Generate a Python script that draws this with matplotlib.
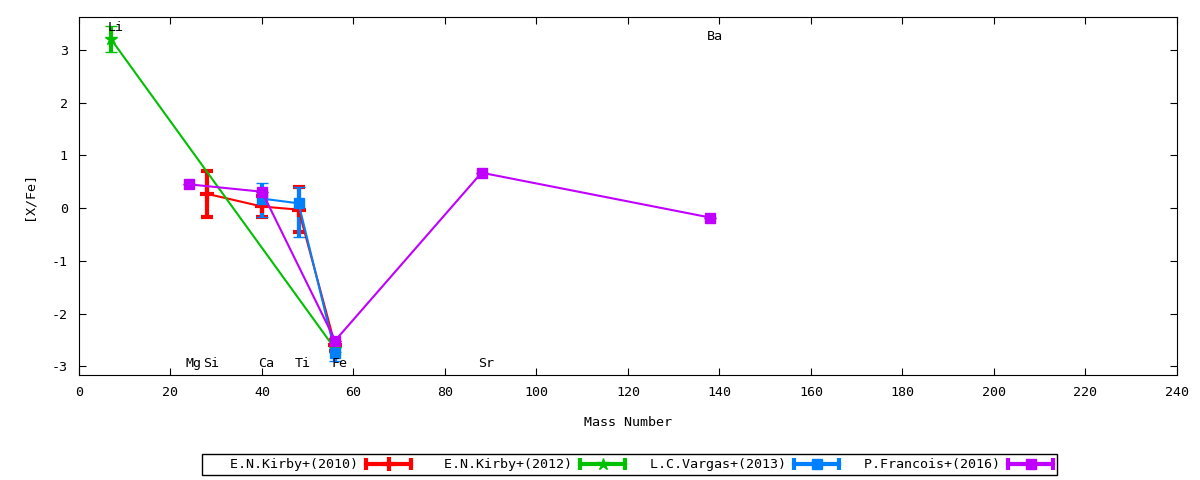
import matplotlib
matplotlib.use("Agg")
import matplotlib.pyplot as plt
from matplotlib.lines import Line2D
from matplotlib.legend_handler import HandlerBase

plt.rcParams['font.family'] = ['DejaVu Sans Mono']
plt.rcParams['font.size'] = 9.6
plt.rcParams['axes.unicode_minus'] = False

# mass number, [X/Fe], error
kirby10_x = [28, 40, 48, 56]
kirby10_y = [0.27, 0.03, -0.03, -2.6]
kirby10_err = [0.43, 0.2, 0.42, 0.1]

kirby12_x = [7, 56]
kirby12_y = [3.2, -2.67]
kirby12_err = [0.24, 0.05]

vargas13_x = [40, 48, 56]
vargas13_y = [0.18, 0.09, -2.74]
vargas13_err_lo = [0.34, 0.63, 0.15]
vargas13_err_hi = [0.29, 0.31, 0.15]

francois16_x = [24, 40, 56, 88, 138]
francois16_y = [0.45, 0.31, -2.51, 0.67, -0.18]
francois16_err = [0.0, 0.0, 0.0, 0.0, 0.0]

element_names = ["Li", "Mg", "Si", "Ca", "Ti", "Fe", "Sr", "Ba"]
element_x = [7, 24, 28, 40, 48, 56, 88, 138]
element_y = [3.43, -2.95, -2.95, -2.95, -2.95, -2.95, -2.95, 3.25]


class ErrorbarKey(HandlerBase):
    # gnuplot-like key sample: horizontal bar with end caps and a marker
    def create_artists(self, legend, orig_handle, xdescent, ydescent,
                       width, height, fontsize, trans):
        y = height / 2 - ydescent
        x0, x1 = -xdescent, -xdescent + width
        c = orig_handle.get_color()
        bar = Line2D([x0, x1], [y, y], color=c, lw=3, transform=trans)
        caps = Line2D([x0, x1], [y, y], color=c, lw=0, marker="|", ms=9,
                      mew=3, transform=trans)
        mk = Line2D([(x0 + x1) / 2], [y], color=c, lw=0,
                    marker=orig_handle.get_marker(),
                    ms=orig_handle.get_markersize(),
                    mew=orig_handle.get_markeredgewidth(), transform=trans)
        return [bar, caps, mk]


fig = plt.figure(figsize=(12, 4.8), dpi=100)
ax = fig.add_axes([0.0658, 0.219, 0.915, 0.7456])

series = [
    (kirby10_x, kirby10_y, kirby10_err, "#ff0000", "+", 10, 3, "E.N.Kirby+(2010)"),
    (kirby12_x, kirby12_y, kirby12_err, "#00c000", "*", 9, 1, "E.N.Kirby+(2012)"),
    (vargas13_x, vargas13_y, [vargas13_err_lo, vargas13_err_hi], "#0080ff", "s", 7, 1,
     "L.C.Vargas+(2013)"),
    (francois16_x, francois16_y, francois16_err, "#c000ff", "s", 7, 1, "P.Francois+(2016)"),
]

handles = []
labels = []
for x, y, err, col, mk, ms, mew, lab in series:
    ax.errorbar(x, y, yerr=err, color=col, lw=1.5, elinewidth=3, capsize=4,
                capthick=3, marker=mk, ms=ms, mew=mew)
    handles.append(Line2D([], [], color=col, marker=mk, ms=ms, mew=mew))
    labels.append(lab.rjust(19))

for name, x, y in zip(element_names, element_x, element_y):
    ax.text(x - 0.8, y, name, ha="left", va="center")

ax.set_xlim(0, 240)
ax.set_ylim(-3.16, 3.62)
ax.set_xticks(range(0, 241, 20))
ax.set_yticks(range(-3, 4))
ax.tick_params(direction="in", top=True, right=True, length=5, pad=8)
ax.set_xlabel("Mass Number", labelpad=12)
ax.set_ylabel("[X/Fe]", labelpad=12)

fig.legend(handles, labels, loc="center", bbox_to_anchor=(0.5248, 0.0313),
           ncol=4, markerfirst=False, frameon=True, fancybox=False,
           edgecolor="black", framealpha=1, borderpad=0.3, borderaxespad=0,
           handlelength=3.4, columnspacing=0.65, handletextpad=0.6,
           handler_map={Line2D: ErrorbarKey()})

fig.savefig("out.png", dpi=100)
